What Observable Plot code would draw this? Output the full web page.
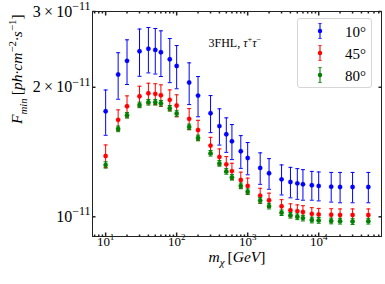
<!DOCTYPE html>
<html><head><meta charset="utf-8">
<script src="https://cdn.jsdelivr.net/npm/d3@7"></script>
<script src="https://cdn.jsdelivr.net/npm/@observablehq/plot@0.6"></script>
<style>
body{margin:0;background:#fff;}
#wrap{position:relative;width:385px;height:284px;font-family:"Liberation Serif","DejaVu Serif",serif;}
#legend{position:absolute;left:297px;top:18px;width:75px;height:70px;border:1px solid #d6d6d6;border-radius:3px;background:rgba(255,255,255,0.8);box-sizing:border-box;}
.lrow{position:absolute;left:0;width:100%;height:22px;}
.lrow svg{position:absolute;left:14px;top:0;}
.lrow span{position:absolute;right:5px;top:2px;font-size:15px;line-height:18px;color:#000;}
</style></head><body><div id="wrap"><div id="legend"></div></div>
<script>
// ---- data (flux values in units of 1e-11 ph cm^-2 s^-1) ----
const masses = [10,15,20,30,40,50,60,80,100,150,200,300,400,500,600,800,1000,1500,2000,3000,4000,5000,6000,8000,10000,15000,20000,30000,50000];
const flux10 = [1.759,2.141,2.304,2.426,2.457,2.443,2.412,2.323,2.242,2.051,1.913,1.741,1.625,1.555,1.498,1.420,1.370,1.299,1.262,1.222,1.205,1.196,1.190,1.184,1.180,1.175,1.173,1.173,1.173];
const err10  = [0.212,0.265,0.274,0.305,0.297,0.296,0.293,0.273,0.258,0.228,0.205,0.172,0.157,0.143,0.140,0.124,0.118,0.109,0.103,0.098,0.098,0.098,0.097,0.091,0.091,0.093,0.095,0.095,0.095];
const flux45 = [1.385,1.680,1.807,1.906,1.937,1.931,1.916,1.870,1.814,1.689,1.591,1.464,1.378,1.324,1.277,1.218,1.180,1.120,1.093,1.058,1.036,1.031,1.026,1.016,1.013,1.011,1.010,1.010,1.010];
const err45  = [0.084,0.092,0.103,0.105,0.107,0.107,0.110,0.102,0.107,0.095,0.085,0.066,0.060,0.056,0.055,0.052,0.050,0.045,0.042,0.038,0.036,0.035,0.035,0.034,0.033,0.033,0.033,0.033,0.033];
const flux80 = [1.320,1.601,1.722,1.820,1.846,1.846,1.836,1.787,1.738,1.618,1.525,1.405,1.331,1.275,1.235,1.180,1.144,1.091,1.059,1.022,1.008,1.000,0.993,0.983,0.981,0.978,0.977,0.975,0.977];
const err80  = [0.022,0.024,0.026,0.027,0.028,0.028,0.028,0.027,0.026,0.024,0.023,0.021,0.020,0.019,0.018,0.018,0.017,0.016,0.016,0.015,0.015,0.015,0.015,0.015,0.015,0.015,0.015,0.015,0.015];
const seriesNames = ["10°","45°","80°"];
const seriesColors = ["#0000ff","#ff0000","#008000"];
const xTicks = [10,100,1000,10000];
const xTickLabels = ["10^{1}","10^{2}","10^{3}","10^{4}"];
const yTicks = [1,2,3];
const yTickLabels = ["10^{−11}","2\u2009×\u200910^{−11}","3\u2009×\u200910^{−11}"];
const xLabel = "$m$_{$χ$}\u2009[$GeV$]";
const yLabel = "$F$_{$min$}\u2009[$ph·cm$^{−2}$·s$^{−1}]";
const annotation = "3FHL, $τ$^{+}$τ$^{−}";

// ---- build ----
const fluxes = [flux10, flux45, flux80], errs = [err10, err45, err80];
const series = seriesNames.map((name, k) => ({
  name, color: seriesColors[k],
  rows: masses.map((m, i) => ({m, f: fluxes[k][i], lo: fluxes[k][i] - errs[k][i], hi: fluxes[k][i] + errs[k][i]}))
}));
const xDomain = [6.53, 76600], yDomain = [0.9, 3];

const hLine = w => ({draw(ctx){ ctx.moveTo(-w, 0); ctx.lineTo(w, 0); }});
const vTick = len => ({draw(ctx){ ctx.moveTo(0, 0); ctx.lineTo(0, len); }});
const hTick = len => ({draw(ctx){ ctx.moveTo(0, 0); ctx.lineTo(len, 0); }});

const xAll = d3.scaleLog().domain(xDomain).ticks();
const xMinor = xAll.filter(v => !xTicks.includes(v));
const axisCol = "#222";

const marks = [];
for (const s of series) {
  marks.push(Plot.ruleX(s.rows, {x: "m", y1: "lo", y2: "hi", stroke: s.color, strokeWidth: 1}));
  marks.push(Plot.dot(s.rows, {x: "m", y: "hi", symbol: hLine(2), stroke: s.color, fill: "none", strokeWidth: 1}));
  marks.push(Plot.dot(s.rows, {x: "m", y: "lo", symbol: hLine(2), stroke: s.color, fill: "none", strokeWidth: 1}));
  marks.push(Plot.dot(s.rows, {x: "m", y: "f", r: 2.2, fill: s.color, stroke: s.color, strokeOpacity: 0.5, strokeWidth: 0.6}));
}
// inward ticks
marks.push(Plot.dot(xTicks, {x: d => d, frameAnchor: "bottom", symbol: vTick(-4), stroke: axisCol, fill: "none"}));
marks.push(Plot.dot(xTicks, {x: d => d, frameAnchor: "top", symbol: vTick(4), stroke: axisCol, fill: "none"}));
marks.push(Plot.dot(xMinor, {x: d => d, frameAnchor: "bottom", symbol: vTick(-2), stroke: axisCol, fill: "none"}));
marks.push(Plot.dot(xMinor, {x: d => d, frameAnchor: "top", symbol: vTick(2), stroke: axisCol, fill: "none"}));
marks.push(Plot.dot(yTicks, {y: d => d, frameAnchor: "left", symbol: hTick(3), stroke: axisCol, fill: "none"}));
marks.push(Plot.dot(yTicks, {y: d => d, frameAnchor: "right", symbol: hTick(-3), stroke: axisCol, fill: "none"}));
marks.push(Plot.frame({stroke: axisCol, strokeWidth: 1}));
marks.push(Plot.text([annotation], {frameAnchor: "top-left", dx: 116, dy: 27, textAnchor: "start", fontSize: 12}));
marks.push(Plot.text([xLabel], {frameAnchor: "bottom", dy: 25, fontSize: 15}));
marks.push(Plot.text([yLabel], {frameAnchor: "left", dx: -75, rotate: -90, fontSize: 15}));

const chart = Plot.plot({
  width: 385, height: 284,
  marginLeft: 92, marginRight: 4, marginTop: 11, marginBottom: 48,
  style: {fontFamily: "'Liberation Serif', serif", fontSize: "13px", background: "white", color: "black"},
  x: {type: "log", domain: xDomain, ticks: xTicks, tickFormat: d => xTickLabels[xTicks.indexOf(d)], tickSize: 0, tickPadding: 0, label: null},
  y: {type: "log", domain: yDomain, ticks: yTicks, tickFormat: d => yTickLabels[yTicks.indexOf(d)], tickSize: 0, tickPadding: 2, label: null},
  marks
});
const wrap = document.getElementById("wrap");
wrap.insertBefore(chart, wrap.firstChild);

// rich text: $..$ toggles italic, ^{..} superscript, _{..} subscript
function runsOf(src) {
  const runs = []; let italic = false, mode = "n", buf = "";
  const flush = () => { if (buf) runs.push({t: buf, italic, mode}); buf = ""; };
  for (let i = 0; i < src.length; i++) {
    const c = src[i];
    if (c === "$") { flush(); italic = !italic; continue; }
    if ((c === "^" || c === "_") && src[i + 1] === "{") { flush(); mode = c === "^" ? "sup" : "sub"; i++; continue; }
    if (c === "}" && mode !== "n") { flush(); mode = "n"; continue; }
    buf += c;
  }
  flush();
  return runs;
}
function rich(el, src, fs, ratio = 0.7) {
  while (el.firstChild) el.removeChild(el.firstChild);
  el.setAttribute("font-size", fs);
  let cur = 0;
  for (const r of runsOf(src)) {
    const ts = document.createElementNS("http://www.w3.org/2000/svg", "tspan");
    const size = r.mode === "n" ? fs : fs * ratio;
    const target = r.mode === "sup" ? -0.42 * fs : r.mode === "sub" ? 0.28 * fs : 0;
    ts.setAttribute("font-size", size);
    if (target !== cur) ts.setAttribute("dy", target - cur);
    cur = target;
    if (r.italic) ts.setAttribute("font-style", "italic");
    ts.textContent = r.t;
    el.appendChild(ts);
  }
}
for (const t of chart.querySelectorAll("text")) {
  const s = t.textContent;
  if (yTickLabels.includes(s)) rich(t, s, 16, 0.75);
  else if (xTickLabels.includes(s)) rich(t, s, 13);
  else if (s === xLabel) rich(t, s, 15.5);
  else if (s === yLabel) rich(t, s, 15.5);
  else if (s === annotation) rich(t, s, 12);
}

// legend
const leg = document.getElementById("legend");
series.forEach((s, k) => {
  const row = document.createElement("div");
  row.className = "lrow"; row.style.top = (2 + k * 22) + "px";
  row.innerHTML = `<svg width="16" height="20"><line x1="8" x2="8" y1="2" y2="18" stroke="${s.color}" stroke-opacity="0.55" stroke-width="2"/>` +
    `<line x1="6" x2="10" y1="2.5" y2="2.5" stroke="${s.color}" stroke-opacity="0.55"/><line x1="6" x2="10" y1="17.5" y2="17.5" stroke="${s.color}" stroke-opacity="0.55"/>` +
    `<circle cx="8" cy="10" r="2.2" fill="${s.color}"/></svg><span>${s.name}</span>`;
  leg.appendChild(row);
});
</script></body></html>
